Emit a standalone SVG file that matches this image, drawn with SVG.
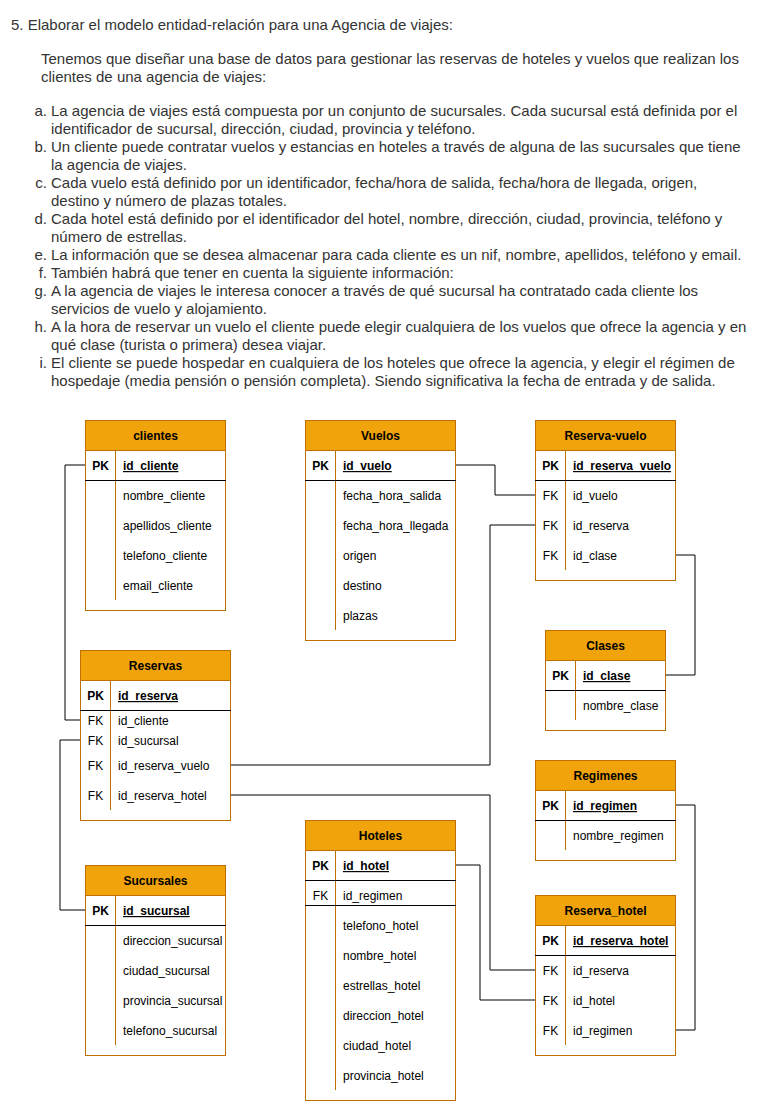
<svg xmlns="http://www.w3.org/2000/svg" width="761" height="1111" viewBox="0 0 761 1111">
<style>
.p{font-family:"Liberation Sans",Arial,sans-serif;font-size:15px;fill:#333}
.m{text-anchor:end}
.box{fill:#fff;stroke:#BD7000;stroke-width:1}
.hd{fill:#F0A30A;stroke:#BD7000;stroke-width:1}
.dv{stroke:#BD7000;stroke-width:1;fill:none}
.sep{stroke:#000;stroke-width:1;fill:none}
.h{font-family:"Liberation Sans",Arial,sans-serif;font-size:12px;font-weight:bold;fill:#000;text-anchor:middle}
.k{font-family:"Liberation Sans",Arial,sans-serif;font-size:12px;fill:#000;text-anchor:middle}
.kb{font-weight:bold}
.a{font-family:"Liberation Sans",Arial,sans-serif;font-size:12px;fill:#000}
.pk{font-weight:bold;text-decoration:underline}
.c{stroke:#000;stroke-width:1;fill:none}
</style>
<rect width="761" height="1111" fill="#fff"/>
<g id="text">
<text class="p" x="11" y="30">5. Elaborar el modelo entidad-relación para una Agencia de viajes:</text>
<text class="p" x="41" y="64">Tenemos que diseñar una base de datos para gestionar las reservas de hoteles y vuelos que realizan los</text>
<text class="p" x="41" y="82">clientes de una agencia de viajes:</text>
<text class="p m" x="47" y="116">a.</text><text class="p" x="51" y="116">La agencia de viajes está compuesta por un conjunto de sucursales. Cada sucursal está definida por el</text>
<text class="p" x="51" y="134">identificador de sucursal, dirección, ciudad, provincia y teléfono.</text>
<text class="p m" x="47" y="152">b.</text><text class="p" x="51" y="152">Un cliente puede contratar vuelos y estancias en hoteles a través de alguna de las sucursales que tiene</text>
<text class="p" x="51" y="170">la agencia de viajes.</text>
<text class="p m" x="47" y="188">c.</text><text class="p" x="51" y="188">Cada vuelo está definido por un identificador, fecha/hora de salida, fecha/hora de llegada, origen,</text>
<text class="p" x="51" y="206">destino y número de plazas totales.</text>
<text class="p m" x="47" y="224">d.</text><text class="p" x="51" y="224">Cada hotel está definido por el identificador del hotel, nombre, dirección, ciudad, provincia, teléfono y</text>
<text class="p" x="51" y="242">número de estrellas.</text>
<text class="p m" x="47" y="260">e.</text><text class="p" x="51" y="260">La información que se desea almacenar para cada cliente es un nif, nombre, apellidos, teléfono y email.</text>
<text class="p m" x="47" y="278">f.</text><text class="p" x="51" y="278">También habrá que tener en cuenta la siguiente información:</text>
<text class="p m" x="47" y="296">g.</text><text class="p" x="51" y="296">A la agencia de viajes le interesa conocer a través de qué sucursal ha contratado cada cliente los</text>
<text class="p" x="51" y="314">servicios de vuelo y alojamiento.</text>
<text class="p m" x="47" y="332">h.</text><text class="p" x="51" y="332">A la hora de reservar un vuelo el cliente puede elegir cualquiera de los vuelos que ofrece la agencia y en</text>
<text class="p" x="51" y="350">qué clase (turista o primera) desea viajar.</text>
<text class="p m" x="47" y="368">i.</text><text class="p" x="51" y="368">El cliente se puede hospedar en cualquiera de los hoteles que ofrece la agencia, y elegir el régimen de</text>
<text class="p" x="51" y="386">hospedaje (media pensión o pensión completa). Siendo significativa la fecha de entrada y de salida.</text>
</g>
<g id="connectors">
<polyline class="c" points="85,465 65,465 65,720 80,720"/>
<polyline class="c" points="80,740 60,740 60,910 85,910"/>
<polyline class="c" points="455,465 495,465 495,495 535,495"/>
<polyline class="c" points="535,525 490,525 490,765 230,765"/>
<polyline class="c" points="675,555 695,555 695,675 665,675"/>
<polyline class="c" points="230,795 490,795 490,970 535,970"/>
<polyline class="c" points="455,865 480,865 480,1000 535,1000"/>
<polyline class="c" points="675,805 695,805 695,1030 675,1030"/>
</g>
<g id="clientes">
<rect class="box" x="85.5" y="420.5" width="140" height="190"/>
<rect class="hd" x="85.5" y="420.5" width="140" height="30"/>
<line class="dv" x1="115.5" y1="450" x2="115.5" y2="600"/>
<line class="sep" x1="85" y1="480.5" x2="226" y2="480.5"/>
<text class="h" x="155.5" y="440">clientes</text>
<text class="k kb" x="100.5" y="470">PK</text>
<text class="a pk" x="123" y="470">id_cliente</text>
<text class="a" x="123" y="500">nombre_cliente</text>
<text class="a" x="123" y="530">apellidos_cliente</text>
<text class="a" x="123" y="560">telefono_cliente</text>
<text class="a" x="123" y="590">email_cliente</text>
</g>
<g id="vuelos">
<rect class="box" x="305.5" y="420.5" width="150" height="220"/>
<rect class="hd" x="305.5" y="420.5" width="150" height="30"/>
<line class="dv" x1="335.5" y1="450" x2="335.5" y2="630"/>
<line class="sep" x1="305" y1="480.5" x2="456" y2="480.5"/>
<text class="h" x="380.5" y="440">Vuelos</text>
<text class="k kb" x="320.5" y="470">PK</text>
<text class="a pk" x="343" y="470">id_vuelo</text>
<text class="a" x="343" y="500">fecha_hora_salida</text>
<text class="a" x="343" y="530">fecha_hora_llegada</text>
<text class="a" x="343" y="560">origen</text>
<text class="a" x="343" y="590">destino</text>
<text class="a" x="343" y="620">plazas</text>
</g>
<g id="reserva-vuelo">
<rect class="box" x="535.5" y="420.5" width="140" height="160"/>
<rect class="hd" x="535.5" y="420.5" width="140" height="30"/>
<line class="dv" x1="565.5" y1="450" x2="565.5" y2="570"/>
<line class="sep" x1="535" y1="480.5" x2="676" y2="480.5"/>
<text class="h" x="605.5" y="440">Reserva-vuelo</text>
<text class="k kb" x="550.5" y="470">PK</text>
<text class="a pk" x="573" y="470">id_reserva_vuelo</text>
<text class="k" x="550.5" y="500">FK</text><text class="a" x="573" y="500">id_vuelo</text>
<text class="k" x="550.5" y="530">FK</text><text class="a" x="573" y="530">id_reserva</text>
<text class="k" x="550.5" y="560">FK</text><text class="a" x="573" y="560">id_clase</text>
</g>
<g id="clases">
<rect class="box" x="545.5" y="630.5" width="120" height="100"/>
<rect class="hd" x="545.5" y="630.5" width="120" height="30"/>
<line class="dv" x1="575.5" y1="660" x2="575.5" y2="720"/>
<line class="sep" x1="545" y1="690.5" x2="666" y2="690.5"/>
<text class="h" x="605.5" y="650">Clases</text>
<text class="k kb" x="560.5" y="680">PK</text>
<text class="a pk" x="583" y="680">id_clase</text>
<text class="a" x="583" y="710">nombre_clase</text>
</g>
<g id="reservas">
<rect class="box" x="80.5" y="650.5" width="150" height="170"/>
<rect class="hd" x="80.5" y="650.5" width="150" height="30"/>
<line class="dv" x1="110.5" y1="680" x2="110.5" y2="810"/>
<line class="sep" x1="80" y1="710.5" x2="231" y2="710.5"/>
<text class="h" x="155.5" y="670">Reservas</text>
<text class="k kb" x="95.5" y="700">PK</text>
<text class="a pk" x="118" y="700">id_reserva</text>
<text class="k" x="95.5" y="725">FK</text><text class="a" x="118" y="725">id_cliente</text>
<text class="k" x="95.5" y="745">FK</text><text class="a" x="118" y="745">id_sucursal</text>
<text class="k" x="95.5" y="770">FK</text><text class="a" x="118" y="770">id_reserva_vuelo</text>
<text class="k" x="95.5" y="800">FK</text><text class="a" x="118" y="800">id_reserva_hotel</text>
</g>
<g id="regimenes">
<rect class="box" x="535.5" y="760.5" width="140" height="100"/>
<rect class="hd" x="535.5" y="760.5" width="140" height="30"/>
<line class="dv" x1="565.5" y1="790" x2="565.5" y2="850"/>
<line class="sep" x1="535" y1="820.5" x2="676" y2="820.5"/>
<text class="h" x="605.5" y="780">Regimenes</text>
<text class="k kb" x="550.5" y="810">PK</text>
<text class="a pk" x="573" y="810">id_regimen</text>
<text class="a" x="573" y="840">nombre_regimen</text>
</g>
<g id="hoteles">
<rect class="box" x="305.5" y="820.5" width="150" height="280"/>
<rect class="hd" x="305.5" y="820.5" width="150" height="30"/>
<line class="dv" x1="335.5" y1="850" x2="335.5" y2="1090"/>
<line class="sep" x1="305" y1="880.5" x2="456" y2="880.5"/>
<line class="sep" x1="305" y1="905.5" x2="456" y2="905.5"/>
<text class="h" x="380.5" y="840">Hoteles</text>
<text class="k kb" x="320.5" y="870">PK</text>
<text class="a pk" x="343" y="870">id_hotel</text>
<text class="k" x="320.5" y="900">FK</text><text class="a" x="343" y="900">id_regimen</text>
<text class="a" x="343" y="930">telefono_hotel</text>
<text class="a" x="343" y="960">nombre_hotel</text>
<text class="a" x="343" y="990">estrellas_hotel</text>
<text class="a" x="343" y="1020">direccion_hotel</text>
<text class="a" x="343" y="1050">ciudad_hotel</text>
<text class="a" x="343" y="1080">provincia_hotel</text>
</g>
<g id="sucursales">
<rect class="box" x="85.5" y="865.5" width="140" height="190"/>
<rect class="hd" x="85.5" y="865.5" width="140" height="30"/>
<line class="dv" x1="115.5" y1="895" x2="115.5" y2="1045"/>
<line class="sep" x1="85" y1="925.5" x2="226" y2="925.5"/>
<text class="h" x="155.5" y="885">Sucursales</text>
<text class="k kb" x="100.5" y="915">PK</text>
<text class="a pk" x="123" y="915">id_sucursal</text>
<text class="a" x="123" y="945">direccion_sucursal</text>
<text class="a" x="123" y="975">ciudad_sucursal</text>
<text class="a" x="123" y="1005">provincia_sucursal</text>
<text class="a" x="123" y="1035">telefono_sucursal</text>
</g>
<g id="reserva_hotel">
<rect class="box" x="535.5" y="895.5" width="140" height="160"/>
<rect class="hd" x="535.5" y="895.5" width="140" height="30"/>
<line class="dv" x1="565.5" y1="925" x2="565.5" y2="1045"/>
<line class="sep" x1="535" y1="955.5" x2="676" y2="955.5"/>
<text class="h" x="605.5" y="915">Reserva_hotel</text>
<text class="k kb" x="550.5" y="945">PK</text>
<text class="a pk" x="573" y="945">id_reserva_hotel</text>
<text class="k" x="550.5" y="975">FK</text><text class="a" x="573" y="975">id_reserva</text>
<text class="k" x="550.5" y="1005">FK</text><text class="a" x="573" y="1005">id_hotel</text>
<text class="k" x="550.5" y="1035">FK</text><text class="a" x="573" y="1035">id_regimen</text>
</g>
</svg>
